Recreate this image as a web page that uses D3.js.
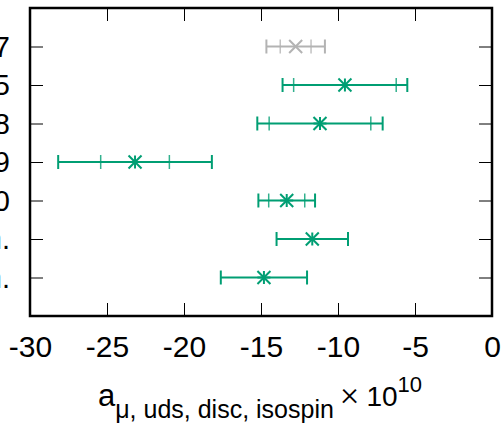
<!DOCTYPE html>
<html>
<head>
<meta charset="utf-8">
<script src="https://cdn.jsdelivr.net/npm/d3@7"></script>
<style>
  html, body { margin: 0; padding: 0; background: #fff; }
  svg { display: block; }
  text { font-family: "Liberation Sans", Arial, sans-serif; fill: #000; }
</style>
</head>
<body>
<div id="chart"></div>
<script>
// ---- data ----
const labels   = ["BMW 2017", "RBC/UKQCD 2015", "RBC/UKQCD 2018", "Mainz 2019", "BMW 2020", "This work, prelim.", "This work (alt.), prelim."];
const values   = [-12.75, -9.55, -11.17, -23.18, -13.33, -11.67, -14.81];
const statErr  = [1.0, 3.33, 3.3, 2.23, 1.17, null, null];
const totalErr = [1.9, 4.05, 4.07, 4.99, 1.84, 2.32, 2.8];
const isGray   = [true, false, false, false, false, false, false];
const xTicks   = [-30, -25, -20, -15, -10, -5, 0];

const W = 503, H = 423;
const M = { left: 30, right: 11, top: 8, bottom: 107 };
const green = "#009e73", gray = "#b3b3b3";

const svg = d3.select("#chart").append("svg").attr("width", W).attr("height", H);

const x = d3.scaleLinear().domain([-30, 0]).range([M.left, W - M.right]);
const y = d3.scaleLinear().domain([0, labels.length + 1]).range([M.top, H - M.bottom]);
const rowY = i => y(i + 1);

const x0 = x.range()[0], x1 = x.range()[1], y0 = y.range()[0], y1 = y.range()[1];
const tick = 13;

// bottom axis
const gB = svg.append("g").attr("transform", `translate(0,${y1})`)
  .call(d3.axisBottom(x).tickValues(xTicks).tickSize(-tick).tickFormat(d3.format("d")));
gB.select(".domain").remove();
gB.selectAll("line").attr("stroke", "#000").attr("stroke-width", 1);
gB.selectAll("text").attr("y", 41).attr("dy", 0).style("font-size", "30px").attr("font-family", null)
  .text(d => d === 0 ? "0" : String(d));

// top mirrored ticks
const gT = svg.append("g").attr("transform", `translate(0,${y0})`)
  .call(d3.axisTop(x).tickValues(xTicks).tickSize(-tick).tickFormat(""));
gT.select(".domain").remove();
gT.selectAll("line").attr("stroke", "#000").attr("stroke-width", 1);

// left axis
const rows = labels.map((d, i) => i + 1);
const gL = svg.append("g").attr("transform", `translate(${x0},0)`)
  .call(d3.axisLeft(y).tickValues(rows).tickSize(-tick).tickFormat(d => labels[d - 1]));
gL.select(".domain").remove();
gL.selectAll("line").attr("stroke", "#000").attr("stroke-width", 1);
gL.selectAll("text").attr("x", -20).attr("dy", "0.33em").style("font-size", "29px").attr("font-family", null);

// right mirrored ticks
const gR = svg.append("g").attr("transform", `translate(${x1},0)`)
  .call(d3.axisRight(y).tickValues(rows).tickSize(-tick).tickFormat(""));
gR.select(".domain").remove();
gR.selectAll("line").attr("stroke", "#000").attr("stroke-width", 1);

// frame
svg.append("rect").attr("x", x0).attr("y", y0).attr("width", x1 - x0).attr("height", y1 - y0)
  .attr("fill", "none").attr("stroke", "#000").attr("stroke-width", 2.5);

// error bars + markers
const cap = 7, ms = 6.5;
const g = svg.append("g");
values.forEach((v, i) => {
  const cy = rowY(i);
  const col = isGray[i] ? gray : green;
  const lo = v - totalErr[i], hi = v + totalErr[i];
  g.append("line").attr("x1", x(lo)).attr("x2", x(hi)).attr("y1", cy).attr("y2", cy)
    .attr("stroke", col).attr("stroke-width", 2);
  [lo, hi].forEach(e => g.append("line").attr("x1", x(e)).attr("x2", x(e))
    .attr("y1", cy - cap).attr("y2", cy + cap).attr("stroke", col).attr("stroke-width", 2));
  if (statErr[i] != null) {
    [v - statErr[i], v + statErr[i]].forEach(e => g.append("line").attr("x1", x(e)).attr("x2", x(e))
      .attr("y1", cy - cap).attr("y2", cy + cap).attr("stroke", col).attr("stroke-width", 1.5).attr("opacity", 0.8));
  }
  const cx = x(v);
  const segs = [[-ms, -ms, ms, ms], [-ms, ms, ms, -ms]];
  if (!isGray[i]) segs.push([-ms, 0, ms, 0], [0, -ms, 0, ms]);
  segs.forEach(s => g.append("line").attr("x1", cx + s[0]).attr("y1", cy + s[1])
    .attr("x2", cx + s[2]).attr("y2", cy + s[3]).attr("stroke", col).attr("stroke-width", 2));
});

// x axis title
const t = svg.append("text").attr("x", 260).attr("y", 406).attr("text-anchor", "middle");
t.append("tspan").style("font-size", "31px").text("a");
t.append("tspan").style("font-size", "25px").attr("dy", 12).text("μ, uds, disc, isospin ");
t.append("tspan").style("font-size", "34px").style("font-family", "Roboto, sans-serif")
  .style("font-weight", 300).attr("dy", -13).text("×");
t.append("tspan").style("font-size", "28px").attr("dy", 1).text(" 10");
t.append("tspan").style("font-size", "22px").attr("dy", -14.5).text("10");
</script>
</body>
</html>
